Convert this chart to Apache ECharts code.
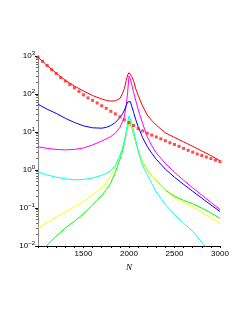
<!DOCTYPE html>
<html>
<head>
<meta charset="utf-8">
<script src="https://cdn.jsdelivr.net/npm/echarts@6/dist/echarts.min.js"></script>
<style>
html,body{margin:0;padding:0;background:#fff;}
#c{width:245px;height:317px;}
</style>
</head>
<body>
<div id="c"></div>
<script>
const nGrid = [1000,1100,1200,1300,1400,1500,1600,1700,1750,1800,1850,1900,1930,1950,1970,1985,2000,2015,2030,2050,2075,2100,2150,2200,2250,2300,2400,2500,2600,2700,2800,2900,3000];
const redSolid = [933,562,355,229,162,120,91,74,68,65,66,76,105,141,229,316,363,331,288,224,135,93,48,28,20,15.1,9.5,7.2,5.5,4.2,3.16,2.4,1.74];
const blue = [53.7,39.8,30.9,22.9,17.8,14.5,12.9,12.6,13.2,14.8,17.8,24.0,30.2,38.0,50.1,61.7,69.2,63.1,47.9,33.1,20.9,14.1,7.08,4.17,2.75,1.91,1.05,0.646,0.417,0.275,0.182,0.120,0.081];
const magenta = [4.07,3.72,3.47,3.39,3.47,3.80,4.57,5.75,6.61,7.59,9.33,13.2,19.1,26.3,50.1,112,295,251,178,112,66.1,39.8,16.6,7.59,4.37,2.82,1.48,0.871,0.537,0.339,0.219,0.141,0.0912];
const cyan = [0.891,0.741,0.646,0.589,0.550,0.562,0.617,0.724,0.813,0.955,1.32,2.40,3.80,6.03,10.7,17.8,26.3,24.0,17.8,11.2,6.03,3.16,1.26,0.759,0.437,0.263,0.123,0.0676,0.0398,0.0245,0.0126,0.0063,0.0035];
const yellow = [0.0295,0.0417,0.0575,0.0794,0.107,0.148,0.224,0.347,0.468,0.724,1.20,2.40,3.98,6.03,10.0,15.1,20.9,19.1,14.8,9.55,5.50,3.31,1.66,0.977,0.708,0.525,0.282,0.186,0.138,0.107,0.0776,0.0562,0.0398];
const green = [0.0060,0.0105,0.0182,0.0295,0.0447,0.0708,0.120,0.214,0.302,0.457,0.871,1.91,3.16,5.25,9.12,13.5,18.6,17.0,13.2,8.91,5.25,3.31,1.66,1.0,0.708,0.525,0.295,0.204,0.158,0.129,0.1,0.0741,0.0537];

const nDots = [1000,1050,1100,1150,1200,1250,1300,1350,1400,1450,1500,1550,1600,1650,1700,1750,1800,1850,1900,1950,2000,2050,2100,2150,2200,2250,2300,2350,2400,2450,2500,2550,2600,2650,2700,2750,2800,2850,2900,2950,3000];
const redDots = [933,724,562,437,347,269,219,178,145,117,95,79,68,58,49,42,35,30,25,21,17.8,14.8,12.3,10.7,9.3,8.3,7.4,6.6,5.9,5.2,4.7,4.2,3.7,3.3,2.95,2.63,2.4,2.19,2.0,1.82,1.66];

const xTickLabels = {1500:'1500',2000:'2000',2500:'2500',3000:'3000'};
const yTickExp = {0.01:'−2',0.1:'−1',1:'0',10:'1',100:'2',1000:'3'};

function pairs(xs, ys){ return xs.map((x,i)=>[x, ys[i]]); }
function lineSeries(name, ys, color){
  return {name:name, type:'line', data:pairs(nGrid, ys), showSymbol:false, smooth:false, clip:true,
    lineStyle:{color:color, width:1}, itemStyle:{color:color}, animation:false, z:2};
}

const chart = echarts.init(document.getElementById('c'), null, {renderer:'canvas'});
chart.setOption({
  animation:false,
  backgroundColor:'#ffffff',
  grid:{left:38, right:25, top:56, bottom:71, containLabel:false},
  xAxis:{type:'value', min:1000, max:3000, interval:500,
    name:'N', nameLocation:'middle', nameGap:10,
    nameTextStyle:{fontFamily:'Liberation Serif', fontStyle:'italic', fontSize:9, color:'#000'},
    axisLine:{lineStyle:{color:'#000', width:1}},
    axisTick:{length:2, lineStyle:{color:'#000'}},
    minorTick:{show:true, splitNumber:5, length:2, lineStyle:{color:'#000'}},
    splitLine:{show:false},
    axisLabel:{fontFamily:'Liberation Sans', fontSize:8, color:'#000', margin:4,
      formatter:v=>xTickLabels[v]||''}
  },
  yAxis:{type:'log', logBase:10, min:0.01, max:1000,
    axisLine:{show:true, lineStyle:{color:'#888', width:1}},
    axisTick:{show:true, length:3, lineStyle:{color:'#000'}},
    minorTick:{show:true, splitNumber:9, length:2, lineStyle:{color:'#666'}},
    splitLine:{show:false},
    axisLabel:{margin:3, fontFamily:'Liberation Sans', color:'#000',
      formatter:v=>{ const k = Object.keys(yTickExp).find(t=>Math.abs(Math.log10(+t)-Math.log10(v))<1e-6); return k? '{b|10}{s|'+yTickExp[k]+'}' : ''; },
      rich:{b:{fontSize:8, fontFamily:'Liberation Sans', color:'#000'}, s:{fontSize:6, fontFamily:'Liberation Sans', color:'#000', verticalAlign:'top', padding:[0,0,5,0]}}
    }
  },
  series:[
    lineSeries('green', green, '#00ff00'),
    lineSeries('yellow', yellow, '#ffff00'),
    lineSeries('cyan', cyan, '#00ffff'),
    lineSeries('magenta', magenta, '#ff00ff'),
    lineSeries('blue', blue, '#0000ff'),
    lineSeries('red', redSolid, '#ff0000'),
    {name:'redDots', type:'scatter', data:pairs(nDots, redDots), symbol:'rect', symbolSize:3,
      itemStyle:{color:'#ff2020'}, clip:true, z:3}
  ]
});
</script>
</body>
</html>
